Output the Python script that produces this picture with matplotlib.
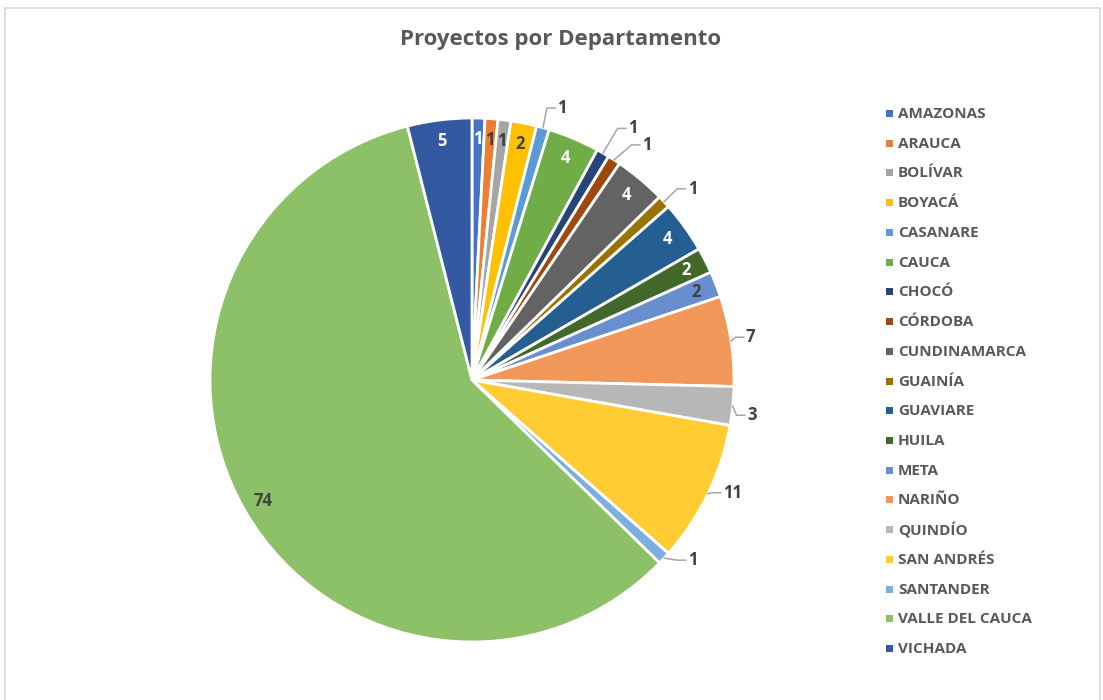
import numpy as np
import matplotlib
matplotlib.use("Agg")
import matplotlib.pyplot as plt
from matplotlib.patches import Rectangle
from matplotlib.lines import Line2D

departments = ["AMAZONAS", "ARAUCA", "BOLÍVAR", "BOYACÁ", "CASANARE", "CAUCA", "CHOCÓ",
               "CÓRDOBA", "CUNDINAMARCA", "GUAINÍA", "GUAVIARE", "HUILA", "META", "NARIÑO",
               "QUINDÍO", "SAN ANDRÉS", "SANTANDER", "VALLE DEL CAUCA", "VICHADA"]
projects = [1, 1, 1, 2, 1, 4, 1, 1, 4, 1, 4, 2, 2, 7, 3, 11, 1, 74, 5]
title = "Proyectos por Departamento"

colors = ["#4472C4", "#ED7D31", "#A5A5A5", "#FFC000", "#5B9BD5", "#70AD47", "#264478",
          "#9E480E", "#636363", "#997300", "#255E91", "#43682B", "#698ED0", "#F1975A",
          "#B7B7B7", "#FFCD33", "#7CAFDD", "#8CC168", "#335AA1"]

# label style: ("in", color) or ("out", angle tweak clockwise deg, radius)
label_style = {
    "AMAZONAS": ("in", "white"), "ARAUCA": ("in", "#404040"), "BOLÍVAR": ("in", "#404040"),
    "BOYACÁ": ("in", "#404040"), "CASANARE": ("out", 1.7, 1.088), "CAUCA": ("in", "white"),
    "CHOCÓ": ("out", 1.8, 1.13), "CÓRDOBA": ("out", 3.0, 1.107), "CUNDINAMARCA": ("in", "white"),
    "GUAINÍA": ("out", 1.3, 1.10), "GUAVIARE": ("in", "white"), "HUILA": ("in", "white"),
    "META": ("in", "#404040"), "NARIÑO": ("out", -0.3, 1.058), "QUINDÍO": ("out", 1.6, 1.058),
    "SAN ANDRÉS": ("out", -1.5, 1.05), "SANTANDER": ("out", -3.0, 1.073),
    "VALLE DEL CAUCA": ("in", "#404040"), "VICHADA": ("in", "white"),
}

FONT = ["Open Sans", "DejaVu Sans"]
W, H = 1103, 700
fig = plt.figure(figsize=(W / 100, H / 100), dpi=100)
fig.patch.set_facecolor("white")

# chart frame
fig.patches.append(Rectangle((5 / W, -0.05), (1100 - 5) / W, 1.05 - 8 / H,
                             transform=fig.transFigure, fill=False,
                             edgecolor="#D9D9D9", linewidth=1.2))

cx, cy, R = 472, 380, 262
ax = fig.add_axes([(cx - R) / W, (H - cy - R) / H, 2 * R / W, 2 * R / H])
wedges, _ = ax.pie(projects, colors=colors, startangle=90, counterclock=False,
                   wedgeprops=dict(edgecolor="white", linewidth=2))
ax.set_xlim(-1, 1)
ax.set_ylim(-1, 1)
ax.set_aspect("auto")
ax.axis("off")

for w, name, v in zip(wedges, departments, projects):
    mid = np.deg2rad((w.theta1 + w.theta2) / 2)
    st = label_style[name]
    if st[0] == "in":
        r = 0.92
        ax.text(r * np.cos(mid), r * np.sin(mid), str(v), ha="center", va="center",
                fontsize=12, fontweight="bold", color=st[1], family=FONT)
    else:
        ang = mid - np.deg2rad(st[1])
        lx, ly = st[2] * np.cos(ang), st[2] * np.sin(ang)
        px, py = np.cos(mid), np.sin(mid)
        ax.add_line(Line2D([px, lx - 0.04, lx - 0.008], [py, ly, ly], color="#A6A6A6",
                           linewidth=1.1, clip_on=False))
        ax.text(lx, ly, str(v), ha="left", va="center", fontsize=12, fontweight="bold",
                color="#404040", family=FONT, clip_on=False)

fig.text(561 / W, 1 - 40 / H, title, ha="center", va="center", fontsize=16,
         fontweight="bold", color="#595959", family=FONT)

# legend
y0, step = 114, (648 - 113) / 18
for i, (name, c) in enumerate(zip(departments, colors)):
    y = y0 + i * step
    fig.patches.append(Rectangle(((886) / W, 1 - (y + 3) / H), 7 / W, 7 / H,
                                 transform=fig.transFigure, facecolor=c, edgecolor="none"))
    fig.text(898 / W, 1 - y / H, name, ha="left", va="center", fontsize=11,
             fontweight="bold", color="#595959", family=FONT)

fig.savefig("out.png", dpi=100)
